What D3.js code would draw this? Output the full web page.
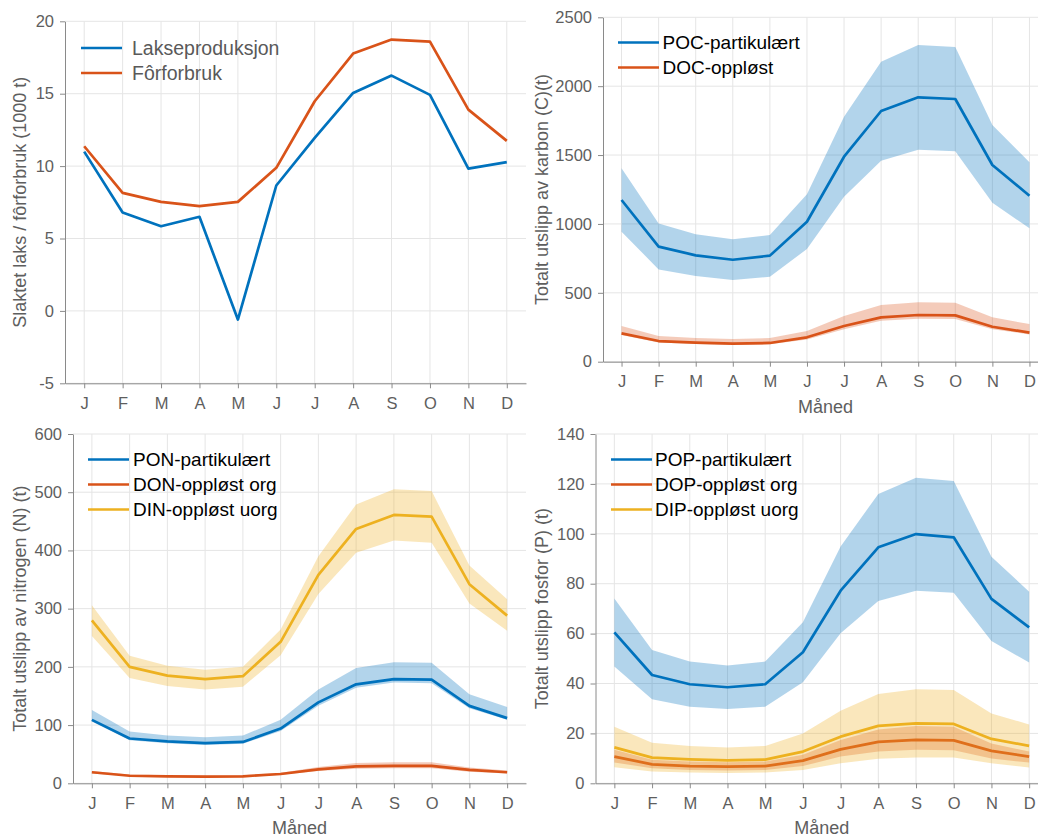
<!DOCTYPE html>
<html>
<head>
<meta charset="utf-8">
<script src="https://cdn.jsdelivr.net/npm/d3@7"></script>
<style>
  body { margin: 0; background: #fff; }
  svg { font-family: "Liberation Sans", Arial, sans-serif; }
</style>
</head>
<body>
<svg id="chart" width="1038" height="837"></svg>
<script>
// months
const months = ["J", "F", "M", "A", "M", "J", "J", "A", "S", "O", "N", "D"];

// panel 1: slaughtered salmon / feed use (1000 t)
const lakseproduksjon = [11.0, 6.8, 5.85, 6.5, -0.6, 8.66, 11.95, 15.05, 16.25, 14.92, 9.83, 10.27];
const forforbruk = [11.37, 8.15, 7.53, 7.23, 7.53, 9.88, 14.48, 17.77, 18.74, 18.6, 13.9, 11.74];

// panel 2: carbon
const pocMean = [1174, 835, 772, 740, 770, 1016, 1488, 1820, 1919, 1907, 1428, 1205];
const pocHigh = [1404, 1004, 925, 888, 920, 1215, 1779, 2178, 2299, 2285, 1718, 1447];
const pocLow = [944, 670, 622, 593, 617, 818, 1198, 1459, 1539, 1527, 1154, 968];
const docMean = [206, 150, 138, 131, 136, 177, 259, 322, 339, 336, 254, 211];
const docHigh = [259, 186, 172, 165, 172, 223, 332, 411, 431, 428, 322, 273];
const docLow = [194, 140, 128, 121, 126, 162, 235, 298, 312, 310, 235, 198];

// panel 3: nitrogen
const ponMean = [109, 77, 72, 69, 71, 94, 139, 170, 179, 178, 133, 112];
const ponHigh = [126, 89, 82, 79, 82, 109, 161, 198, 208, 207, 153, 131];
const ponLow = [106, 74, 69, 66, 68, 90, 133, 164, 173, 172, 129, 109];
const donMean = [19, 13, 12, 11.5, 12, 16, 24, 29, 30, 30, 23, 19];
const donHigh = [21, 15, 14, 13, 14, 18, 28, 35, 36, 36, 27, 22];
const donLow = [17, 12, 11, 10.5, 11, 14.5, 21, 25, 26, 26, 20, 17];
const dinMean = [280, 200, 185, 179, 184, 243, 358, 437, 461, 458, 342, 288];
const dinHigh = [306, 219, 202, 195, 200, 264, 390, 479, 505, 502, 374, 316];
const dinLow = [253, 181, 167, 161, 166, 220, 325, 396, 417, 413, 309, 262];

// panel 4: phosphorus
const popMean = [60.5, 43.4, 39.7, 38.5, 39.7, 52.5, 77.2, 94.6, 99.9, 98.6, 73.9, 62.5];
const popHigh = [74.1, 53.4, 48.8, 47.2, 48.8, 64.5, 94.9, 116, 122.5, 121.2, 90.8, 76.8];
const popLow = [46.8, 33.7, 30.7, 29.8, 30.7, 40.5, 60.1, 73.1, 77.2, 76.4, 57, 48.4];
const dopMean = [10.7, 7.6, 6.9, 6.7, 6.9, 9.1, 13.6, 16.6, 17.4, 17.2, 13, 10.7];
const dopHigh = [13.4, 9.4, 8.7, 8.4, 8.7, 11.4, 17.4, 21.6, 23, 22.7, 16, 12.7];
const dopLow = [8.3, 6, 5.3, 5.1, 5.3, 6.9, 10.7, 12.7, 13.4, 13.2, 9.9, 8.3];
const dipMean = [14.4, 10.3, 9.6, 9.2, 9.5, 12.7, 18.7, 23, 24, 23.8, 17.8, 15];
const dipHigh = [22.7, 16.3, 15, 14.3, 15, 20, 29.1, 35.8, 37.7, 37.4, 28, 23.6];
const dipLow = [6.4, 4.7, 4.3, 4.1, 4.3, 5.3, 8, 9.8, 10.3, 10.3, 8, 6.3];

const blue = "#0072BD", orange = "#D95319", yellow = "#EDB120";

const panels = [
  {
    box: { left: 65, right: 526, top: 21.3, bottom: 383.3 },
    domain: [-5, 20], ticks: d3.range(-5, 21, 5),
    ylabel: "Slaktet laks / fôrforbruk (1000 t)", ylabelX: 20, xlabel: null,
    legendX: 81, legendY: 48, legendColor: "#595959", textX: 51, textSize: 19.5,
    series: [
      { name: "Lakseproduksjon", color: blue, mean: lakseproduksjon },
      { name: "Fôrforbruk", color: orange, mean: forforbruk }
    ]
  },
  {
    box: { left: 603, right: 1048, top: 17.3, bottom: 361.7 },
    domain: [0, 2500], ticks: d3.range(0, 2501, 500),
    ylabel: "Totalt utslipp av karbon (C)(t)", ylabelX: 542, xlabel: "Måned",
    legendX: 618, legendY: 42.5, legendColor: "#000", textX: 44.5, textSize: 19,
    series: [
      { name: "POC-partikulært", color: blue, mean: pocMean, high: pocHigh, low: pocLow },
      { name: "DOC-oppløst", color: orange, mean: docMean, high: docHigh, low: docLow }
    ]
  },
  {
    box: { left: 73, right: 526, top: 434, bottom: 783.3 },
    domain: [0, 600], ticks: d3.range(0, 601, 100),
    ylabel: "Totalt utslipp av nitrogen (N) (t)", ylabelX: 20, xlabel: "Måned",
    legendX: 88, legendY: 459.5, legendColor: "#000", textX: 45, textSize: 19,
    series: [
      { name: "PON-partikulært", color: blue, mean: ponMean, high: ponHigh, low: ponLow },
      { name: "DON-oppløst org", color: orange, mean: donMean, high: donHigh, low: donLow },
      { name: "DIN-oppløst uorg", color: yellow, mean: dinMean, high: dinHigh, low: dinLow }
    ]
  },
  {
    box: { left: 595.5, right: 1048, top: 434, bottom: 783.3 },
    domain: [0, 140], ticks: d3.range(0, 141, 20),
    ylabel: "Totalt utslipp fosfor (P) (t)", ylabelX: 542, xlabel: "Måned",
    legendX: 611, legendY: 459.5, legendColor: "#000", textX: 44, textSize: 19,
    series: [
      { name: "POP-partikulært", color: blue, mean: popMean, high: popHigh, low: popLow },
      { name: "DOP-oppløst org", color: orange, mean: dopMean, high: dopHigh, low: dopLow },
      { name: "DIP-oppløst uorg", color: yellow, mean: dipMean, high: dipHigh, low: dipLow }
    ]
  }
];

const svg = d3.select("#chart");
const idx = d3.range(1, 13);

panels.forEach(p => {
  const b = p.box;
  const x = d3.scaleLinear().domain([0.5, 12.5]).range([b.left, b.right]);
  const y = d3.scaleLinear().domain(p.domain).range([b.bottom, b.top]);
  const g = svg.append("g");

  // grid
  g.append("g").selectAll("line").data(idx).join("line")
    .attr("x1", d => x(d)).attr("x2", d => x(d))
    .attr("y1", b.top).attr("y2", b.bottom)
    .attr("stroke", "#e5e5e5").attr("stroke-width", 1);
  g.append("g").selectAll("line").data(p.ticks).join("line")
    .attr("x1", b.left).attr("x2", b.right)
    .attr("y1", d => y(d)).attr("y2", d => y(d))
    .attr("stroke", "#e5e5e5").attr("stroke-width", 1);

  // bands and lines
  const area = d3.area().x((d, i) => x(i + 1)).y0(d => y(d[0])).y1(d => y(d[1]));
  const line = d3.line().x((d, i) => x(i + 1)).y(d => y(d));
  p.series.forEach(s => {
    if (s.high) {
      g.append("path")
        .datum(s.low.map((v, i) => [v, s.high[i]]))
        .attr("d", area)
        .attr("fill", s.color).attr("fill-opacity", 0.3);
    }
    g.append("path")
      .datum(s.mean)
      .attr("d", line)
      .attr("fill", "none").attr("stroke", s.color)
      .attr("stroke-width", 2.7).attr("stroke-linejoin", "round");
  });

  // axes
  const xAxis = d3.axisBottom(x).tickValues(idx).tickFormat(d => months[d - 1])
    .tickSize(5).tickSizeOuter(0).tickPadding(9);
  const yAxis = d3.axisLeft(y).tickValues(p.ticks).tickFormat(d => String(d))
    .tickSize(5).tickSizeOuter(0).tickPadding(6);

  g.append("g").attr("transform", `translate(0,${b.bottom})`).call(xAxis)
    .call(a => a.select(".domain").attr("stroke", "#8a8a8a"))
    .call(a => a.selectAll(".tick line").attr("stroke", "#8a8a8a"))
    .call(a => a.selectAll("text").attr("fill", "#5e5e5e").attr("font-size", 16.5));
  g.append("g").attr("transform", `translate(${b.left},0)`).call(yAxis)
    .call(a => a.select(".domain").attr("stroke", "#8a8a8a"))
    .call(a => a.selectAll(".tick line").attr("stroke", "#8a8a8a"))
    .call(a => a.selectAll("text").attr("fill", "#5e5e5e").attr("font-size", 16.5));

  // axis labels
  g.append("text")
    .attr("transform", `translate(${p.ylabelX},${(b.top + b.bottom) / 2}) rotate(-90)`)
    .attr("text-anchor", "middle").attr("dominant-baseline", "central")
    .attr("fill", "#5e5e5e").attr("font-size", 18)
    .text(p.ylabel);
  if (p.xlabel) {
    g.append("text")
      .attr("x", x(6.5)).attr("y", b.bottom + 45)
      .attr("text-anchor", "middle").attr("dominant-baseline", "central")
      .attr("fill", "#5e5e5e").attr("font-size", 18)
      .text(p.xlabel);
  }

  // legend
  const lg = g.append("g").attr("transform", `translate(${p.legendX},${p.legendY})`);
  p.series.forEach((s, i) => {
    lg.append("line").attr("x1", 0).attr("x2", 41)
      .attr("y1", i * 25).attr("y2", i * 25)
      .attr("stroke", s.color).attr("stroke-width", 2.7);
    lg.append("text").attr("x", p.textX).attr("y", i * 25)
      .attr("dominant-baseline", "central")
      .attr("fill", p.legendColor).attr("font-size", p.textSize)
      .text(s.name);
  });
});
</script>
</body>
</html>
